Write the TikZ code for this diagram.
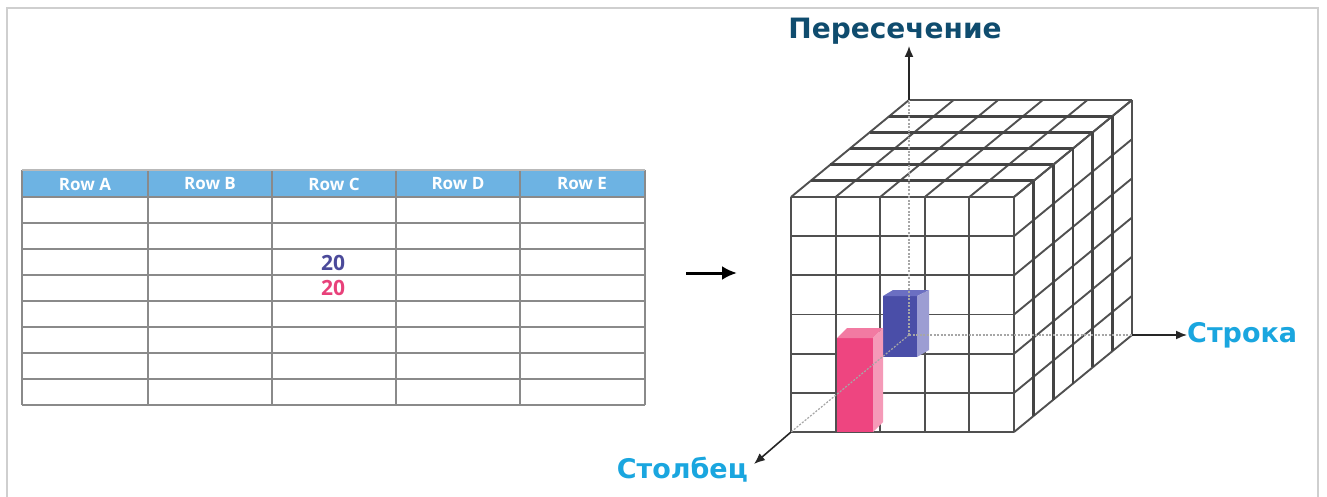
\documentclass[tikz,border=0pt]{standalone}
\usepackage{fontspec}
\setmainfont{DejaVu Sans}
\newfontfamily\hdrfont{Open Sans}
\usetikzlibrary{arrows.meta,calc}
\definecolor{hdrblue}{HTML}{6DB3E3}
\definecolor{tgray}{HTML}{8A8A8A}
\definecolor{framecol}{HTML}{CFCFCF}
\definecolor{cubecol}{HTML}{505050}
\definecolor{valblue}{HTML}{4B4A9A}
\definecolor{valpink}{HTML}{E8417A}
\definecolor{darkteal}{HTML}{0F4C6E}
\definecolor{cyanlab}{HTML}{1AA6DF}
\definecolor{pinkfront}{HTML}{EE4580}
\definecolor{pinktop}{HTML}{F27AA2}
\definecolor{pinkside}{HTML}{F59AB8}
\definecolor{bluefront}{HTML}{4A4EA8}
\definecolor{bluetop}{HTML}{6B6FC2}
\definecolor{blueside}{HTML}{9C9DD3}
\tikzset{
  tline/.style={draw=tgray,line width=2.3pt},
  hdrtext/.style={text=white,font=\hdrfont\bfseries\fontsize{17}{20}\selectfont,inner sep=0pt},
  valtxt/.style={font=\hdrfont\bfseries\fontsize{21}{24}\selectfont,inner sep=0pt},
  cubeline/.style={draw=cubecol,line width=1.9pt},
  cubethick/.style={draw=cubecol!85!black,line width=2.8pt},
  axisdot/.style={draw=black!35,line width=1.2pt,dash pattern=on 2pt off 1.5pt},
  axisarrow/.style={draw=black!85,line width=1.6pt,-{Latex[length=11pt,width=9pt]}},
  bigarrow/.style={draw=black,line width=3pt,-{Latex[length=15pt,width=14pt]}},
  axislabel/.style={font=\bfseries\fontsize{27}{31}\selectfont,inner sep=0pt}
}
\begin{document}
\begin{tikzpicture}[x=1pt,y=-1pt]
\useasboundingbox (0,0) rectangle (1327,497);
\fill[white] (0,0) rectangle (1327,497);
\draw[framecol,line width=1.4pt] (7,497) -- (7,8) -- (1318,8) -- (1318,497);
% table
\fill[hdrblue] (22,170) rectangle (645,197);
\foreach \y in {197,223,...,405} \draw[tline] (22,\y) -- (645,\y);
\foreach \x in {22,148,272,396,520,645} \draw[tline] (\x,170) -- (\x,405);
\draw[tline,draw=tgray!60] (22,170) -- (645,170);
\node[hdrtext] (hA) at (85,184) {Row A};
\node[hdrtext] (hB) at (210,184) {Row B};
\node[hdrtext] (hC) at (334,184) {Row C};
\node[hdrtext] (hD) at (458,184) {Row D};
\node[hdrtext] (hE) at (582,184) {Row E};
\node[valtxt,text=valblue] (v1) at (333,263) {20};
\node[valtxt,text=valpink] (v2) at (333,288) {20};
% arrow
\coordinate (arS) at (686,273);
\coordinate (arE) at (737,273);
\draw[bigarrow] (arS) -- (arE);
% cube: front face
\foreach \i in {0,...,5} \draw[cubeline] ({791+44.6*\i},197) -- ({791+44.6*\i},432);
\foreach \j in {0,...,6} \draw[cubeline] (791,{197+39.17*\j}) -- (1014,{197+39.17*\j});
% top face
\foreach \i in {0,...,5} \draw[cubeline] ({791+44.6*\i},197) -- ++(118,-97);
\foreach \k in {1,...,5} \draw[cubethick] ({791+19.667*\k},{197-16.167*\k}) -- ++(223,0);
\draw[cubeline] (909,100) -- (1132,100);
% right face
\foreach \j in {0,...,6} \draw[cubeline] (1014,{197+39.17*\j}) -- ++(118,-97);
\foreach \k in {1,...,5} \draw[cubethick] ({1014+19.667*\k},{197-16.167*\k}) -- ++(0,235);
\draw[cubeline] (1132,100) -- (1132,335);
% bars
\fill[bluefront] (883,296) rectangle (917,357);
\fill[bluetop] (883,296) -- (893,290) -- (929,290) -- (917,296) -- cycle;
\fill[blueside] (917,296) -- (929,290) -- (929,350) -- (917,357) -- cycle;
\fill[pinkfront] (837,338) rectangle (873,432);
\fill[pinktop] (837,338) -- (847,328) -- (883,328) -- (873,338) -- cycle;
\fill[pinkside] (873,338) -- (883,328) -- (883,422) -- (873,432) -- cycle;
% axes
\coordinate (O) at (909,335);
\coordinate (topB) at (909,100);
\coordinate (rightB) at (1132,335);
\coordinate (frontB) at (791,432);
\draw[axisdot] (O) -- (topB);
\draw[axisdot] (O) -- (rightB);
\draw[axisdot] (O) -- (frontB);
\node[axislabel,text=darkteal,font=\bfseries\fontsize{28}{32}\selectfont] (lInt) at (895,31) {Пересечение};
\node[axislabel,text=cyanlab,anchor=west] (lRow) at (1187,335) {Строка};
\node[axislabel,text=cyanlab,anchor=east] (lCol) at (748,470) {Столбец};
\draw[axisarrow] (topB) -- (909,46);
\draw[axisarrow] (rightB) -- (lRow.west);
\draw[axisarrow] (frontB) -- (754,464);
\end{tikzpicture}
\end{document}
